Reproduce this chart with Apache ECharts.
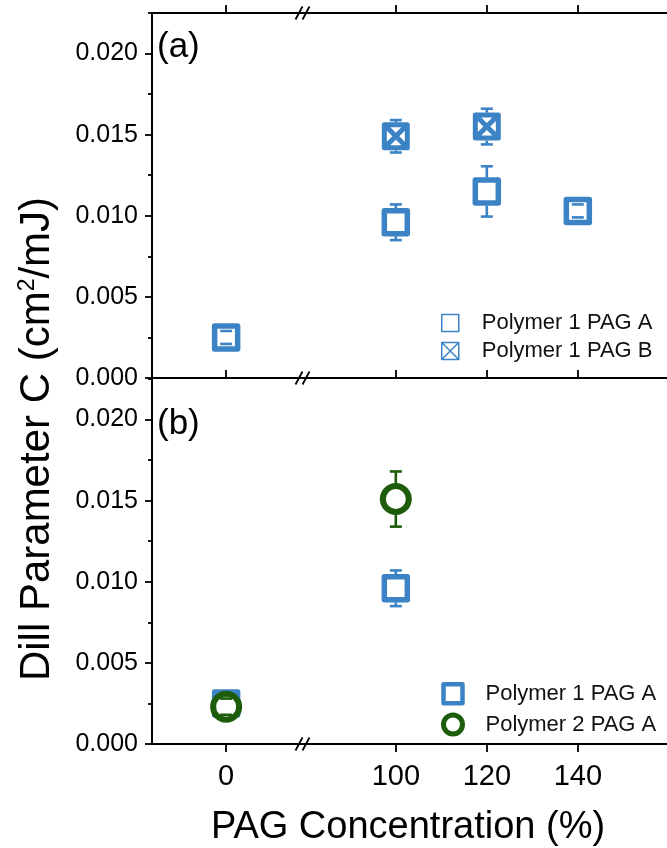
<!DOCTYPE html>
<html>
<head>
<meta charset="utf-8">
<script src="https://cdn.jsdelivr.net/npm/echarts@6/dist/echarts.min.js"></script>
<style>
  html, body { margin: 0; padding: 0; background: #fff; }
  #chart { width: 667px; height: 848px; }
</style>
</head>
<body>
<div id="chart"></div>
<script>
// ---- data -------------------------------------------------------------
// PAG loading levels shown on the x axis (%)
const pagTicks = [0, 100, 120, 140];

// Panel (a): Polymer 1 with PAG A and with PAG B
const aP1PagA_x   = [0, 100, 120, 140];
const aP1PagA_c   = [0.0025, 0.0096, 0.0115, 0.0103];
const aP1PagA_err = [0.0004, 0.0011, 0.00155, 0.0004];

const aP1PagB_x   = [100, 120];
const aP1PagB_c   = [0.0149, 0.0155];
const aP1PagB_err = [0.0010, 0.0011];

// Panel (b): PAG A in Polymer 1 and in Polymer 2
const bP1PagA_x   = [0, 100];
const bP1PagA_c   = [0.0025, 0.0096];
const bP1PagA_err = [0.0004, 0.0011];

const bP2PagA_x   = [0, 100];
const bP2PagA_c   = [0.0023, 0.0151];
const bP2PagA_err = [0.0005, 0.0017];

// Dill C axis ticks (cm^2/mJ)
const yMajorTicks = [0, 0.005, 0.010, 0.015, 0.020];
const yMinorTicks = [0.0025, 0.0075, 0.0125, 0.0175, 0.0225];

// ---- layout & style ---------------------------------------------------
const FONT = '"Liberation Sans", Arial, Helvetica, sans-serif';
const BLUE = '#3b83c5';
const GREEN = '#1d5c0b';
const INK = '#000';

const PLOT_LEFT = 152;
const BREAK_X = 303;
const PLOT_RIGHT_EDGE = 667;
const PANELS = [
  { top: 13, height: 365 },   // (a)
  { top: 379, height: 365 }   // (b)
];
const LEFT_RANGE = [-16.3, 16.9];    // segment before the axis break
const RIGHT_RANGE = [79.6, 159.6];   // segment after the axis break
const Y_MAX = 0.0225;

const SQUARE_X = 'path://M0,0H20V20H0ZM0,0L20,20M20,0L0,20';

// ---- helpers ----------------------------------------------------------
function pick(xs, ys, es, range) {
  const out = [];
  xs.forEach((x, i) => {
    if (x >= range[0] && x <= range[1]) out.push([x, ys[i], es[i]]);
  });
  return out;
}

function errorBars(color, halfMarker) {
  return function (params, api) {
    const x = api.value(0), y = api.value(1), e = api.value(2);
    const c = api.coord([x, y]);
    const hi = api.coord([x, y + e]);
    const lo = api.coord([x, y - e]);
    const cap = 6;
    const style = { stroke: color, lineWidth: 2.6, lineCap: 'butt' };
    const kids = [
      { type: 'line', shape: { x1: c[0] - cap, y1: hi[1], x2: c[0] + cap, y2: hi[1] }, style },
      { type: 'line', shape: { x1: c[0] - cap, y1: lo[1], x2: c[0] + cap, y2: lo[1] }, style }
    ];
    if (c[1] - hi[1] > halfMarker) {
      kids.push({ type: 'line', shape: { x1: c[0], y1: hi[1], x2: c[0], y2: c[1] - halfMarker }, style });
    }
    if (lo[1] - c[1] > halfMarker) {
      kids.push({ type: 'line', shape: { x1: c[0], y1: c[1] + halfMarker, x2: c[0], y2: lo[1] }, style });
    }
    return { type: 'group', children: kids };
  };
}

// ---- grids: two panels, each split at the axis break ------------------
const grids = [];
PANELS.forEach(p => {
  grids.push({ left: PLOT_LEFT, top: p.top, width: BREAK_X - PLOT_LEFT, height: p.height, outerBoundsMode: 'none', containLabel: false });
  grids.push({ left: BREAK_X, top: p.top, width: PLOT_RIGHT_EDGE - BREAK_X, height: p.height, outerBoundsMode: 'none', containLabel: false });
});

const lineStyle = { color: INK, width: 2 };
const tickLine = { color: INK, width: 1.8 };

function xAxis(gridIndex, range, position, tickMode, labels) {
  const ticks = pagTicks.filter(v => v >= range[0] && v <= range[1]);
  return {
    type: 'value', gridIndex, position, min: range[0], max: range[1],
    splitLine: { show: false },
    axisLine: { show: tickMode !== 'lineless', lineStyle, onZero: false },
    axisTick: tickMode === 'none' || tickMode === 'lineless'
      ? { show: false }
      : { show: true, inside: tickMode === 'inside', length: 8, lineStyle: tickLine, customValues: ticks },
    axisLabel: labels
      ? { show: true, customValues: ticks, formatter: v => String(v), fontSize: 29, fontFamily: FONT, color: INK, margin: 18 }
      : { show: false }
  };
}

const xAxes = [
  // panel (a): bottom axes carry the data, top axes are frame only
  xAxis(0, LEFT_RANGE, 'bottom', 'inside', false),
  xAxis(1, RIGHT_RANGE, 'bottom', 'inside', false),
  xAxis(0, LEFT_RANGE, 'top', 'outside', false),
  xAxis(1, RIGHT_RANGE, 'top', 'outside', false),
  // panel (b)
  xAxis(2, LEFT_RANGE, 'bottom', 'outside', true),
  xAxis(3, RIGHT_RANGE, 'bottom', 'outside', true),
  xAxis(2, LEFT_RANGE, 'top', 'lineless', false),
  xAxis(3, RIGHT_RANGE, 'top', 'lineless', false)
];

function yMajor(gridIndex) {
  return {
    type: 'value', gridIndex, min: 0, max: Y_MAX, position: 'left',
    splitLine: { show: false },
    axisLine: { show: true, lineStyle, onZero: false },
    axisTick: { show: true, length: 7, lineStyle: tickLine, customValues: yMajorTicks },
    axisLabel: { show: true, customValues: yMajorTicks, formatter: v => v.toFixed(3), fontSize: 25, fontFamily: FONT, color: INK, margin: 14 }
  };
}
function yMinor(gridIndex) {
  return {
    type: 'value', gridIndex, min: 0, max: Y_MAX, position: 'left',
    splitLine: { show: false },
    axisLine: { show: false, onZero: false },
    axisTick: { show: true, length: 4, lineStyle: tickLine, customValues: yMinorTicks },
    axisLabel: { show: false }
  };
}
function yHidden(gridIndex) {
  return { type: 'value', gridIndex, min: 0, max: Y_MAX, show: false, splitLine: { show: false }, axisLine: { onZero: false } };
}
const yAxes = [yMajor(0), yMinor(0), yHidden(1), yMajor(2), yMinor(2), yHidden(3)];
// y axis index used by the series of each grid
const gridY = [0, 2, 3, 5];
// bottom x axis index of each grid
const gridX = [0, 1, 4, 5];

// ---- series ------------------------------------------------------------
const series = [];
function addSet(panel, name, xs, ys, es, marker, color, halfMarker, z) {
  [LEFT_RANGE, RIGHT_RANGE].forEach((range, side) => {
    const g = panel * 2 + side;
    const pts = pick(xs, ys, es, range);
    if (!pts.length) return;
    series.push({
      type: 'scatter', name, xAxisIndex: gridX[g], yAxisIndex: gridY[g],
      data: pts.map(p => [p[0], p[1]]),
      symbol: marker.symbol, symbolSize: marker.size,
      itemStyle: { color: '#fff', borderColor: color, borderWidth: marker.border, borderJoin: 'round', opacity: 1 },
      emphasis: { disabled: true }, silent: true, z
    });
    series.push({
      type: 'custom', name: name + ' error', xAxisIndex: gridX[g], yAxisIndex: gridY[g],
      data: pts, encode: { x: 0, y: 1 },
      renderItem: errorBars(color, halfMarker),
      silent: true, z: z + 1
    });
  });
}
const squareMk = { symbol: 'rect', size: 23, border: 5.5 };
const squareXMk = { symbol: SQUARE_X, size: 23, border: 5 };
const circleMk = { symbol: 'circle', size: 26, border: 6 };

addSet(0, 'Polymer 1 PAG A', aP1PagA_x, aP1PagA_c, aP1PagA_err, squareMk, BLUE, 14, 2);
addSet(0, 'Polymer 1 PAG B', aP1PagB_x, aP1PagB_c, aP1PagB_err, squareXMk, BLUE, 14, 4);
addSet(1, 'Polymer 1 PAG A', bP1PagA_x, bP1PagA_c, bP1PagA_err, squareMk, BLUE, 14, 2);
addSet(1, 'Polymer 2 PAG A', bP2PagA_x, bP2PagA_c, bP2PagA_err, circleMk, GREEN, 16, 4);

// ---- legends ------------------------------------------------------------
const legendText = { fontSize: 22, fontFamily: FONT, color: '#111', padding: [0, 0, 0, 18] };
const legends = [
  {
    orient: 'vertical', left: 436, top: 307, itemWidth: 17, itemHeight: 17, itemGap: 6,
    selectedMode: false, textStyle: legendText,
    data: [
      { name: 'Polymer 1 PAG A', icon: 'rect', itemStyle: { color: '#fff', borderColor: BLUE, borderWidth: 1.5 } },
      { name: 'Polymer 1 PAG B', icon: SQUARE_X, itemStyle: { color: '#fff', borderColor: BLUE, borderWidth: 1.5 } }
    ]
  },
  {
    orient: 'vertical', left: 436, top: 677, itemWidth: 19, itemHeight: 19, itemGap: 7,
    selectedMode: false, textStyle: legendText,
    data: [
      { name: 'Polymer 1 PAG A', icon: 'rect', itemStyle: { color: '#fff', borderColor: BLUE, borderWidth: 4.5, borderJoin: 'round' } },
      { name: 'Polymer 2 PAG A', icon: 'circle', itemStyle: { color: '#fff', borderColor: GREEN, borderWidth: 5 } }
    ]
  }
];

// ---- decorations: panel tags, titles, axis-break marks --------------------
const graphics = [
  { type: 'text', x: 157, y: 47, style: { text: '(a)', fontSize: 35, fontFamily: FONT, fill: INK, align: 'left', verticalAlign: 'middle' } },
  { type: 'text', x: 157, y: 424, style: { text: '(b)', fontSize: 35, fontFamily: FONT, fill: INK, align: 'left', verticalAlign: 'middle' } },
  {
    type: 'text', x: 37, y: 439, rotation: Math.PI / 2,
    style: {
      text: '{t|Dill Parameter C (cm}{s|2}{t|/mJ)}',
      align: 'center', verticalAlign: 'middle',
      rich: {
        t: { fontSize: 42, fontFamily: FONT, fill: INK },
        s: { fontSize: 23, fontFamily: FONT, fill: INK, verticalAlign: 'top' }
      }
    }
  },
  { type: 'text', x: 408, y: 828, style: { text: 'PAG Concentration (%)', fontSize: 38, fontFamily: FONT, fill: INK, align: 'center', verticalAlign: 'middle' } }
];
[PANELS[0].top, PANELS[0].top + PANELS[0].height, PANELS[1].top + PANELS[1].height].forEach(yLine => {
  [-4, 3].forEach(dx => {
    graphics.push({
      type: 'line', z: 100,
      shape: { x1: BREAK_X + dx - 3.5, y1: yLine + 6.5, x2: BREAK_X + dx + 3.5, y2: yLine - 6.5 },
      style: { stroke: INK, lineWidth: 1.8 }
    });
  });
});

const chart = echarts.init(document.getElementById('chart'), null, { renderer: 'canvas' });
chart.setOption({
  animation: false,
  backgroundColor: '#fff',
  textStyle: { fontFamily: FONT },
  grid: grids,
  xAxis: xAxes,
  yAxis: yAxes,
  legend: legends,
  series,
  graphic: graphics
});
</script>
</body>
</html>
